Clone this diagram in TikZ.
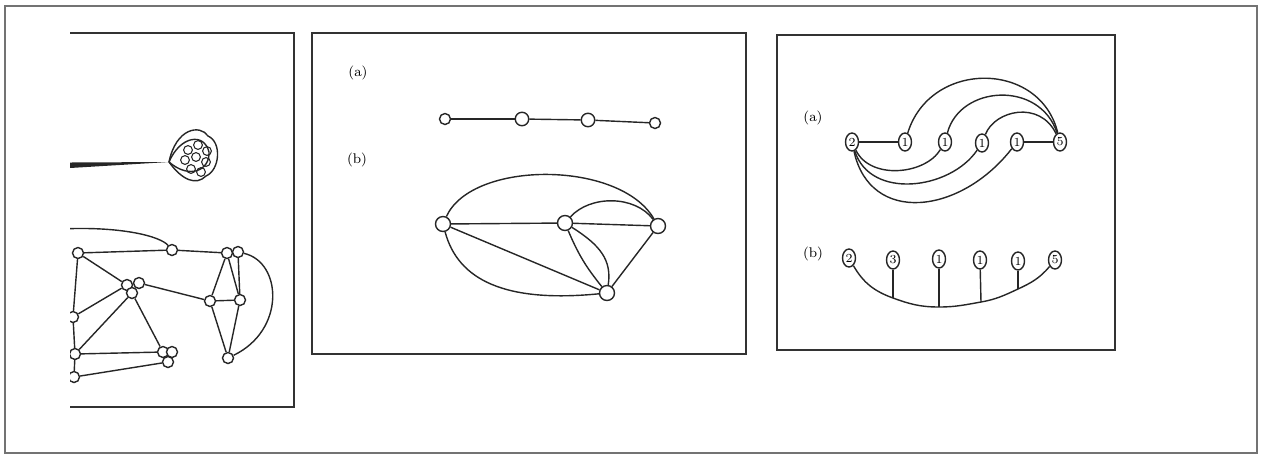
\documentclass[tikz,border=0pt]{standalone}
\usepackage{tikz}
\usetikzlibrary{shapes.geometric, positioning}

\tikzset{
  frame/.style={line width=1.5pt, draw=black!80},
  link/.style={draw=black!85, line width=0.8pt},
  vtx/.style={circle, draw=black!85, line width=0.8pt, fill=white, inner sep=0pt, minimum size=0.22cm},
  bigvtx/.style={vtx, minimum size=0.3cm},
  numvtx/.style={ellipse, draw=black!85, line width=0.8pt, fill=white, inner sep=0pt,
                 minimum width=0.26cm, minimum height=0.36cm, font=\scriptsize},
  tag/.style={font=\footnotesize}
}

\begin{document}
\begin{tikzpicture}[x=0.02cm, y=-0.02cm]
    \useasboundingbox (0,0) rectangle (1261,458);
    % Outer border
    \draw[black!55, line width=0.6pt] (5,6) rectangle (1257,453);

    % 1. Left panel (cut at its left side)
    \draw[frame] (70,33) -- (294,33) -- (294,407) -- (70,407);
    \begin{scope}
      \clip (70,33) rectangle (293,406);
      % stem and bulb
      \coordinate (tip) at (169,162);
      \fill[black!85] (70,162.5) -- (tip) -- (70,168) -- cycle;
      \draw[link] (tip) .. controls (176,128) and (200,124) .. (208,136)
        .. controls (222,142) and (220,170) .. (206,176) .. controls (196,186) and (182,180) .. (tip);
      \draw[link] (tip) .. controls (180,136) and (204,132) .. (209,152) .. controls (210,170) and (190,180) .. (tip);
      \foreach \cx/\cy in {188/150, 198/145, 207/151, 185/160, 196/157, 206/162, 191/169, 201/172} {
        \draw[link, line width=0.6pt] (\cx,\cy) circle (4.4);
      }
      % graph
      \node[vtx] (a)  at (78,253) {};
      \node[vtx] (b)  at (172,250) {};
      \node[vtx] (c1) at (227,253) {};
      \node[vtx] (c2) at (238,252) {};
      \node[vtx] (d1) at (127,285) {};
      \node[vtx] (d2) at (139,283) {};
      \node[vtx] (d3) at (132,293) {};
      \node[vtx] (e)  at (210,301) {};
      \node[vtx] (f)  at (240,300) {};
      \node[vtx] (g)  at (73,317) {};
      \node[vtx] (h)  at (75,354) {};
      \node[vtx] (i)  at (74,377) {};
      \node[vtx] (j1) at (163,352) {};
      \node[vtx] (j2) at (172,352) {};
      \node[vtx] (j3) at (168,362) {};
      \node[vtx] (k)  at (228,358) {};
      \coordinate (in) at (60,229);
      \draw[link] (in) .. controls (120,226) and (160,236) .. (b);
      \draw[link] (a) -- (b);
      \draw[link] (b) -- (c1);
      \draw[link] (a) -- (d1);
      \draw[link] (a) -- (g);
      \draw[link] (g) -- (h);
      \draw[link] (h) -- (i);
      \draw[link] (d1) -- (g);
      \draw[link] (d3) -- (h);
      \draw[link] (d3) -- (j1);
      \draw[link] (d2) -- (e);
      \draw[link] (h) -- (j1);
      \draw[link] (i) -- (j3);
      \draw[link] (c1) -- (e);
      \draw[link] (c1) -- (f);
      \draw[link] (c2) -- (f);
      \draw[link] (e) -- (f);
      \draw[link] (e) -- (k);
      \draw[link] (f) -- (k);
      \draw[link] (c2) .. controls (282,262) and (286,330) .. (k);
    \end{scope}

    % 2. Middle panel
    \draw[frame] (312,33) rectangle (746,354);
    \node[tag] (ta) at (358,73) {(a)};
    \node[tag] (tb) at (357,160) {(b)};
    % (a) path
    \node[vtx] (p1) at (445,119) {};
    \node[bigvtx, minimum size=0.27cm] (p2) at (522,119) {};
    \node[bigvtx, minimum size=0.27cm] (p3) at (588,120) {};
    \node[vtx] (p4) at (655,123) {};
    \draw[link] (p1) -- (p2);
    \draw[link] (p2) -- (p3);
    \draw[link] (p3) -- (p4);
    % (b) graph
    \node[bigvtx] (q1) at (443,224) {};
    \node[bigvtx] (q2) at (565,223) {};
    \node[bigvtx] (q3) at (658,226) {};
    \node[bigvtx] (q4) at (607,293) {};
    \draw[link] (q1) -- (q2);
    \draw[link] (q2) -- (q3);
    \draw[link] (q1) -- (q4);
    \draw[link] (q3) -- (q4);
    \draw[link] (q2) to[bend right=8] (q4);
    \draw[link] (q2) .. controls (600,245) and (612,260) .. (q4);
    \draw[link] (q1) .. controls (472,160) and (620,160) .. (q3);
    \draw[link] (q2) .. controls (590,195) and (635,195) .. (q3);
    \draw[link] (q1) .. controls (458,280) and (505,303) .. (q4);

    % 3. Right panel
    \draw[frame] (777,35) rectangle (1115,350);
    \node[tag] (tc) at (813,118) {(a)};
    \node[tag] (td) at (813,254) {(b)};
    % (a) row
    \node[numvtx] (r1) at (852,142) {2};
    \node[numvtx] (r2) at (905,142) {1};
    \node[numvtx] (r3) at (945,142) {1};
    \node[numvtx] (r4) at (982,143) {1};
    \node[numvtx] (r5) at (1017,142) {1};
    \node[numvtx] (r6) at (1060,142) {5};
    \draw[link] (r1) -- (r2);
    \draw[link] (r5) -- (r6);
    \draw[link] (r2) .. controls (930,60) and (1040,60) .. (r6);
    \draw[link] (r3) .. controls (960,85) and (1040,80) .. (r6);
    \draw[link] (r4) .. controls (995,110) and (1040,100) .. (r6);
    \draw[link] (r1) .. controls (870,180) and (925,175) .. (r3);
    \draw[link] (r1) .. controls (870,200) and (950,190) .. (r4);
    \draw[link] (r1) .. controls (870,225) and (960,215) .. (r5);
    % (b) row
    \node[numvtx] (s1) at (849,258) {2};
    \node[numvtx] (s2) at (893,260) {3};
    \node[numvtx] (s3) at (939,259) {1};
    \node[numvtx] (s4) at (980,260) {1};
    \node[numvtx] (s5) at (1018,261) {1};
    \node[numvtx] (s6) at (1055,260) {5};
    \coordinate (f2) at (893,298);
    \coordinate (f3) at (939,307);
    \coordinate (f4) at (981,302);
    \coordinate (f5) at (1018,289);
    \draw[link] (s1) to[out=-60,in=160] (f2) to[out=-20,in=180] (f3)
      to[out=0,in=-170] (f4) to[out=10,in=-155] (f5) to[out=25,in=-130] (s6);
    \draw[link] (s2) -- (f2);
    \draw[link] (s3) -- (f3);
    \draw[link] (s4) -- (f4);
    \draw[link] (s5) -- (f5);
\end{tikzpicture}
\end{document}
